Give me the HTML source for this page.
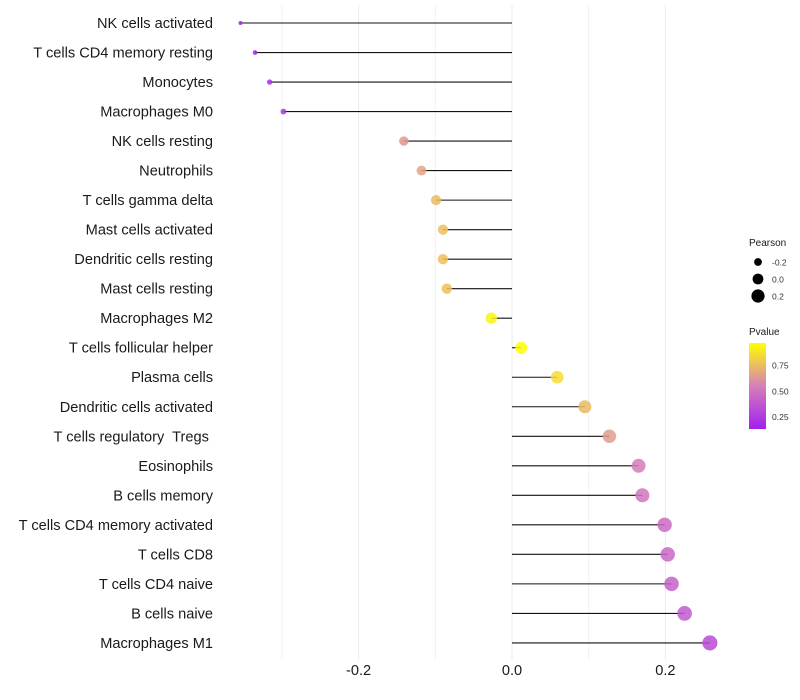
<!DOCTYPE html>
<html><head><meta charset="utf-8"><style>
html,body{margin:0;padding:0;background:#fff;}
svg{display:block;font-family:"Liberation Sans",sans-serif;}
text{white-space:pre;}
</style></head><body>
<svg id="chart" width="800" height="700">
<defs><linearGradient id="pg" x1="0" y1="1" x2="0" y2="0">
<stop offset="0" stop-color="#a020f0"/><stop offset="0.5" stop-color="#d77fb8"/><stop offset="1" stop-color="#ffff00"/>
</linearGradient></defs>
<g id="grid"></g><g id="lines"></g><g id="dots"></g><g id="labels"></g><g id="xticks"></g><g id="legend"></g>
</svg>
<script>
const categories=["NK cells activated","T cells CD4 memory resting","Monocytes","Macrophages M0","NK cells resting","Neutrophils","T cells gamma delta","Mast cells activated","Dendritic cells resting","Mast cells resting","Macrophages M2","T cells follicular helper","Plasma cells","Dendritic cells activated","T cells regulatory  Tregs ","Eosinophils","B cells memory","T cells CD4 memory activated","T cells CD8","T cells CD4 naive","B cells naive","Macrophages M1"];
const pearson=[-0.354,-0.335,-0.316,-0.298,-0.141,-0.118,-0.099,-0.090,-0.090,-0.085,-0.027,0.012,0.059,0.095,0.127,0.165,0.170,0.199,0.203,0.208,0.225,0.258];
const pvalue=[0.15,0.18,0.21,0.24,0.64,0.68,0.75,0.77,0.77,0.77,0.93,0.97,0.86,0.75,0.65,0.54,0.51,0.46,0.45,0.42,0.39,0.33];
const xTicks=[-0.2,0.0,0.2];
const xTickLabels=["-0.2","0.0","0.2"];
const NS="http://www.w3.org/2000/svg";
const X=v=>512+v*767;
const Y=i=>23+i*29.52;
const pMin=0.14,pMax=0.97;
const rMinV=-0.354,rMaxV=0.258;
function R(v){const t=Math.max(0,Math.min(1,(v-rMinV)/(rMaxV-rMinV)));return Math.sqrt(4+t*53);}
const stops=[[0,[160,32,240]],[0.5,[215,127,184]],[1,[255,255,0]]];
function C(p){let t=Math.max(0,Math.min(1,(p-pMin)/(pMax-pMin)));let a=t<=0.5?stops[0]:stops[1],b=t<=0.5?stops[1]:stops[2];let u=(t-a[0])/(b[0]-a[0]);return "rgb("+a[1].map((c,k)=>Math.round(c+(b[1][k]-c)*u)).join(",")+")";}
function el(tag,attrs,parent){const e=document.createElementNS(NS,tag);for(const k in attrs)e.setAttribute(k,attrs[k]);document.getElementById(parent).appendChild(e);return e;}
[-0.3,-0.2,-0.1,0,0.1,0.2].forEach(v=>{const g=el("line",{x1:X(v),x2:X(v),y1:5,y2:660,stroke:Math.abs(Math.round(v*10))%2?"#f2f2f2":"#ebebeb","stroke-width":1},"grid");

});
categories.forEach((c,i)=>{
const l=el("line",{x1:X(0),x2:X(pearson[i]),y1:Y(i),y2:Y(i),stroke:"#111","stroke-width":1.1},"lines");


const d=el("circle",{cx:X(pearson[i]),cy:Y(i),r:R(pearson[i]),fill:C(pvalue[i]),"fill-opacity":0.85},"dots");


const t=el("text",{x:213,y:Y(i)+5,"text-anchor":"end","font-size":14.6,fill:"#1a1a1a"},"labels");
t.textContent=c;


});
xTicks.forEach((v,i)=>{const t=el("text",{x:X(v),y:675,"text-anchor":"middle","font-size":14.6,fill:"#1a1a1a"},"xticks");t.textContent=xTickLabels[i];

});
</script>
<script>
(function(){const lg=document.getElementById("legend");
lg.innerHTML='<text x="749" y="246" font-size="10" fill="#1a1a1a">Pearson</text>'+
'<circle cx="758" cy="262" r="3.9" fill="#000"/><text x="772" y="265.5" font-size="8.5" fill="#333">-0.2</text>'+
'<circle cx="758" cy="279" r="5.4" fill="#000"/><text x="772" y="282.5" font-size="8.5" fill="#333">0.0</text>'+
'<circle cx="758" cy="296" r="6.6" fill="#000"/><text x="772" y="299.5" font-size="8.5" fill="#333">0.2</text>'+
'<text x="749" y="335" font-size="10" fill="#1a1a1a">Pvalue</text>'+
'<rect x="749" y="343" width="17" height="86" fill="url(#pg)"/>'+
'<text x="772" y="368.5" font-size="8.5" fill="#333">0.75</text>'+
'<text x="772" y="394.5" font-size="8.5" fill="#333">0.50</text>'+
'<text x="772" y="420" font-size="8.5" fill="#333">0.25</text>';})();
</script>
</body></html>
